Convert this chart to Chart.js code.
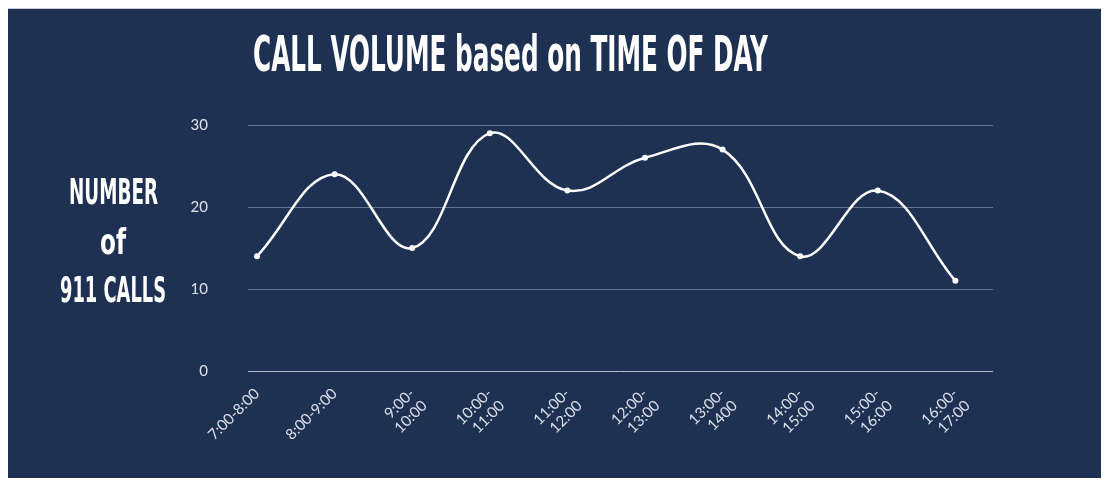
<!DOCTYPE html>
<html>
<head>
<meta charset="utf-8">
<script src="https://cdn.jsdelivr.net/npm/chart.js@4/dist/chart.umd.min.js"></script>
<style>
  html, body { margin: 0; padding: 0; background: #ffffff; }
  body { width: 1109px; height: 483px; position: relative; overflow: hidden; }
  #panel {
    position: absolute; left: 8px; top: 8px; width: 1093px; height: 469px;
    background: #1f3153; border-top: 1px solid #c9ced6;
  }
  #panel canvas { position: absolute; left: 0; top: 0; }
  .cond {
    position: absolute; color: #ffffff; white-space: nowrap;
    font-family: "Liberation Sans Narrow", "DejaVu Sans Condensed", "DejaVu Sans", sans-serif;
    font-weight: bold; font-stretch: condensed; line-height: 1;
    transform-origin: 0 0;
  }
</style>
</head>
<body>
<div id="panel">
  <canvas id="chart" width="1093" height="469"></canvas>
  <div class="cond" id="title" data-x="245" data-y="30" data-w="515" data-h="36">CALL VOLUME based on TIME OF DAY</div>
  <div class="cond" id="yl1" data-cx="105" data-y="172" data-w="89" data-h="26">NUMBER</div>
  <div class="cond" id="yl2" data-cx="105" data-y="222" data-w="26" data-h="26">of</div>
  <div class="cond" id="yl3" data-cx="105" data-y="270" data-w="106" data-h="26">911 CALLS</div>
</div>
<script>
// --- Data ---
const timeSlots = [
  '7:00-8:00', '8:00-9:00', ['9:00-', '10:00'], ['10:00-', '11:00'], ['11:00-', '12:00'],
  ['12:00-', '13:00'], ['13:00-', '1400'], ['14:00-', '15:00'], ['15:00-', '16:00'], ['16:00-', '17:00']
];
const callCounts = [14, 24, 15, 29, 22, 26, 27, 14, 22, 11];
const yTicks = [0, 10, 20, 30];

// linear x so grid lines can run past the first / last point
const points = callCounts.map((v, i) => ({ x: i, y: v }));

// --- Condensed text blocks (title + y label) ---
document.querySelectorAll('.cond').forEach(el => {
  const h = +el.dataset.h;
  el.style.fontSize = (h / 0.72) + 'px';
  const w = el.getBoundingClientRect().width;
  const sx = (+el.dataset.w) / w;
  const left = el.dataset.cx ? (+el.dataset.cx - el.dataset.w / 2) : +el.dataset.x;
  el.style.left = left + 'px';
  el.style.top = (+el.dataset.y - h * 0.28) + 'px';
  el.style.transform = `scaleX(${sx})`;
});

const ctx = document.getElementById('chart').getContext('2d');
new Chart(ctx, {
  type: 'line',
  data: {
    datasets: [{
      data: points,
      borderColor: '#ffffff',
      borderWidth: 2.5,
      tension: 0.4,
      pointRadius: 3,
      pointBackgroundColor: '#ffffff',
      pointBorderColor: '#ffffff',
      pointBorderWidth: 0
    }]
  },
  options: {
    responsive: false,
    animation: false,
    layout: { padding: { left: 180, right: 108, top: 116, bottom: 0 } },
    plugins: { legend: { display: false }, tooltip: { enabled: false } },
    scales: {
      x: {
        type: 'linear',
        min: -0.116,
        max: 9.485,
        grid: { display: false },
        border: { display: false },
        afterFit: (s) => { s.height = 107; },
        afterBuildTicks: (s) => { s.ticks = timeSlots.map((_, i) => ({ value: i })); },
        ticks: {
          autoSkip: false,
          maxRotation: 45,
          minRotation: 45,
          padding: 6,
          color: '#dde2ea',
          font: { family: 'Lato', size: 15, lineHeight: 1.15 },
          callback: (v) => timeSlots[v]
        }
      },
      y: {
        min: 0,
        max: 30,
        afterFit: (s) => { s.width = 60; },
        afterBuildTicks: (s) => { s.ticks = yTicks.map(v => ({ value: v })); },
        border: { display: false },
        grid: {
          drawTicks: false,
          lineWidth: 1,
          color: (c) => c.tick && c.tick.value === 0 ? '#b3bccb' : '#66758f'
        },
        ticks: {
          padding: 40,
          color: '#dde2ea',
          font: { family: 'Lato', size: 15 }
        }
      }
    }
  }
});
</script>
</body>
</html>
